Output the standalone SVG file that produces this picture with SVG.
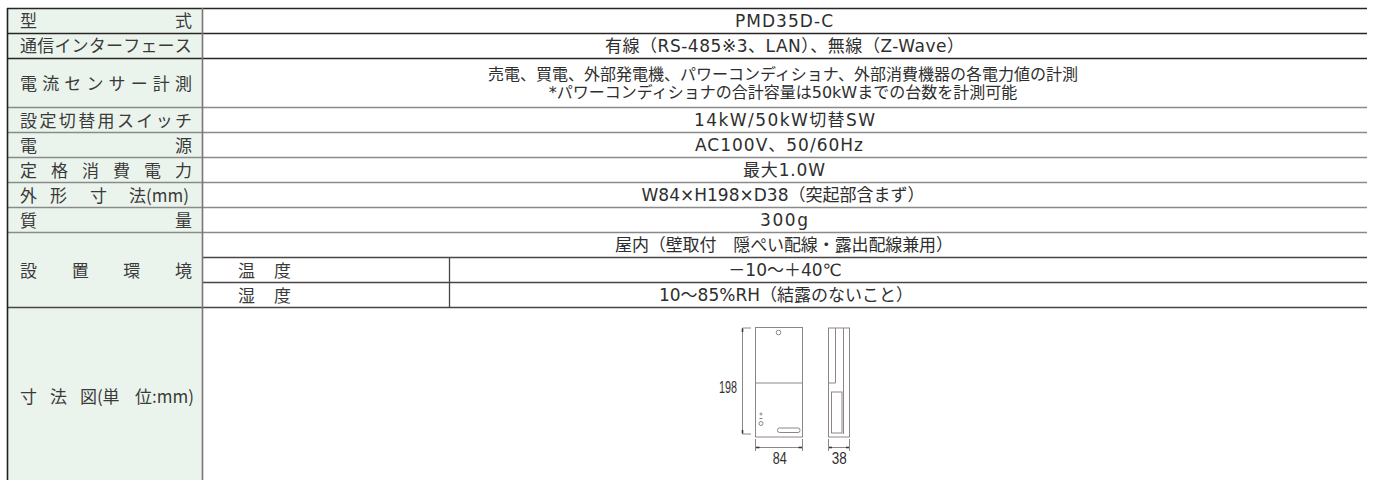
<svg xmlns="http://www.w3.org/2000/svg" width="1373" height="480" viewBox="0 0 1373 480">
<style>
.lbl{font-family:"Noto Sans CJK JP",sans-serif;font-size:17px;fill:#3a3a3a}
.val{font-family:"DejaVu Sans","Noto Sans CJK JP",sans-serif;font-size:17px;fill:#2e2e2e;text-anchor:middle}
.sm{font-size:16px}
.dk{stroke:#2a2424;stroke-width:1.3}
.gy{stroke:#8a8a8a;stroke-width:1.5}
.md{stroke:#4a4444;stroke-width:1.3}
.dr{fill:none;stroke:#8e8686;stroke-width:1}
.tk{stroke:#3d3535;stroke-width:1.6}
.dim{font-family:"Liberation Sans",sans-serif;font-size:16px;fill:#352e2e;text-anchor:middle}
</style>
<rect width="1373" height="480" fill="#ffffff"/>
<rect x="7.5" y="8" width="195" height="472" fill="#eaf4ec"/>

<g id="grid">
<line class="dk" x1="7" y1="8.5" x2="1367" y2="8.5"/>
<line class="dk" x1="7" y1="33.5" x2="1367" y2="33.5"/>
<line class="dk" x1="7" y1="58.5" x2="1367" y2="58.5"/>
<line class="gy" x1="7" y1="107.5" x2="1367" y2="107.5"/>
<line class="gy" x1="7" y1="132.5" x2="1367" y2="132.5"/>
<line class="gy" x1="7" y1="157.5" x2="1367" y2="157.5"/>
<line class="gy" x1="7" y1="182.5" x2="1367" y2="182.5"/>
<line class="gy" x1="7" y1="207.5" x2="1367" y2="207.5"/>
<line class="gy" x1="7" y1="232.5" x2="1367" y2="232.5"/>
<line class="md" x1="202.5" y1="257.5" x2="1367" y2="257.5"/>
<line class="md" x1="202.5" y1="282.5" x2="1367" y2="282.5"/>
<line class="md" x1="7" y1="307.5" x2="1367" y2="307.5"/>
<line stroke="#231f1f" stroke-width="1.6" x1="7.5" y1="8" x2="7.5" y2="480"/>
<line stroke="#7a7676" stroke-width="1.6" x1="202.5" y1="8" x2="202.5" y2="480"/>
<line class="md" x1="449.5" y1="257.5" x2="449.5" y2="307.5"/>
</g>

<g id="row-model">
<text class="lbl" x="20 37 175" y="27">型 式</text>
<text class="val" x="784" y="26.5" textLength="98" lengthAdjust="spacing">PMD35D-C</text>
</g>
<g id="row-interface">
<text class="lbl" x="20 37.2 54.4 71.6 88.8 106 123.2 140.4 157.6 174.8" y="52">通信インターフェース</text>
<text class="val" x="784.5" y="51.5" textLength="359" lengthAdjust="spacing">有線（RS-485※3、LAN）、無線（Z-Wave）</text>
</g>
<g id="row-sensor">
<text class="lbl" x="20 42.14 64.29 86.43 108.57 130.71 152.86 175" y="89.5">電流センサー計測</text>
<text class="val sm" x="783" y="79.5">売電、買電、外部発電機、パワーコンディショナ、外部消費機器の各電力値の計測</text>
<text class="val sm" x="783" y="97.5">*パワーコンディショナの合計容量は50kWまでの台数を計測可能</text>
</g>
<g id="row-switch">
<text class="lbl" x="20 39.375 58.75 78.125 97.5 116.875 136.25 155.625 175" y="126.5">設定切替用スイッチ</text>
<text class="val" x="784.5" y="126" textLength="181" lengthAdjust="spacing">14kW/50kW切替SW</text>
</g>
<g id="row-power">
<text class="lbl" x="20 37 175" y="151.5">電 源</text>
<text class="val" x="779" y="151" textLength="168" lengthAdjust="spacing">AC100V、50/60Hz</text>
</g>
<g id="row-consumption">
<text class="lbl" x="20 51 82 113 144 175" y="176.5">定格消費電力</text>
<text class="val" x="784" y="176" textLength="82" lengthAdjust="spacing">最大1.0W</text>
</g>
<g id="row-size">
<text class="lbl" x="20 37 50 67 90 107 129" y="201.5">外 形 寸 法(mm)</text>
<text class="val" x="783" y="201" textLength="283" lengthAdjust="spacing">W84×H198×D38（突起部含まず）</text>
</g>
<g id="row-mass">
<text class="lbl" x="20 37 175" y="226.5">質 量</text>
<text class="val" x="784" y="226" textLength="48" lengthAdjust="spacing">300g</text>
</g>
<g id="row-environment">
<text class="lbl" x="20 37 71.7 88.7 123.3 140.3 175" y="276.5">設 置 環 境</text>
<text class="val" x="784" y="251" textLength="338" lengthAdjust="spacing">屋内（壁取付　隠ぺい配線・露出配線兼用）</text>
<text class="lbl" x="238 255 274" y="276.5">温 度</text>
<text class="val" x="785" y="276">－10～＋40℃</text>
<text class="lbl" x="238 255 274" y="301.5">湿 度</text>
<text class="val" x="786" y="301">10～85%RH（結露のないこと）</text>
</g>
<g id="row-drawing">
<text class="lbl" x="20 37 50 67 80 97 102.5 119.5 135" y="402.5">寸 法 図(単 位:mm)</text>
</g>

<g id="dimension-drawing">
<rect class="dr" x="755.5" y="327.5" width="47" height="109.5"/>
<line class="dr" x1="755.5" y1="383" x2="802.5" y2="383"/>
<circle class="dr" cx="778.5" cy="332.5" r="2.3"/>
<rect class="dr" x="777.5" y="428" width="22.5" height="4.5" rx="2"/>
<circle class="dr" cx="761" cy="423.5" r="2"/>
<path class="dr" d="M759.5 418.5h3 M759.5 414h3 M761 412.5v3"/>
<path class="dr" d="M742.5 328v106 M742.5 328h8.5 M742.5 434h8.5"/>
<line class="tk" x1="742.5" y1="328.5" x2="742.5" y2="332"/>
<line class="tk" x1="742.5" y1="430" x2="742.5" y2="433.5"/>
<path class="dr" d="M755.5 439v12 M802.5 439v12 M755.5 447.5h47"/>
<line class="tk" x1="756" y1="447.5" x2="759.5" y2="447.5"/>
<line class="tk" x1="798.5" y1="447.5" x2="802" y2="447.5"/>
<text class="dim" x="728" y="392.5" textLength="18" lengthAdjust="spacingAndGlyphs">198</text>
<text class="dim" x="779.7" y="463.5" textLength="14" lengthAdjust="spacingAndGlyphs">84</text>
<rect class="dr" x="828.5" y="328" width="21" height="109"/>
<path class="dr" d="M835.5 328v55h-7"/>
<line class="dr" x1="843.5" y1="328" x2="843.5" y2="434"/>
<rect class="dr" x="831.5" y="392" width="10.5" height="41"/>
<path class="dr" d="M828.5 439v12 M849.5 439v12 M828.5 447.5h21"/>
<line class="tk" x1="829" y1="447.5" x2="832" y2="447.5"/>
<line class="tk" x1="846" y1="447.5" x2="849" y2="447.5"/>
<text class="dim" x="839.2" y="463.5" textLength="15" lengthAdjust="spacingAndGlyphs">38</text>
</g>
</svg>
